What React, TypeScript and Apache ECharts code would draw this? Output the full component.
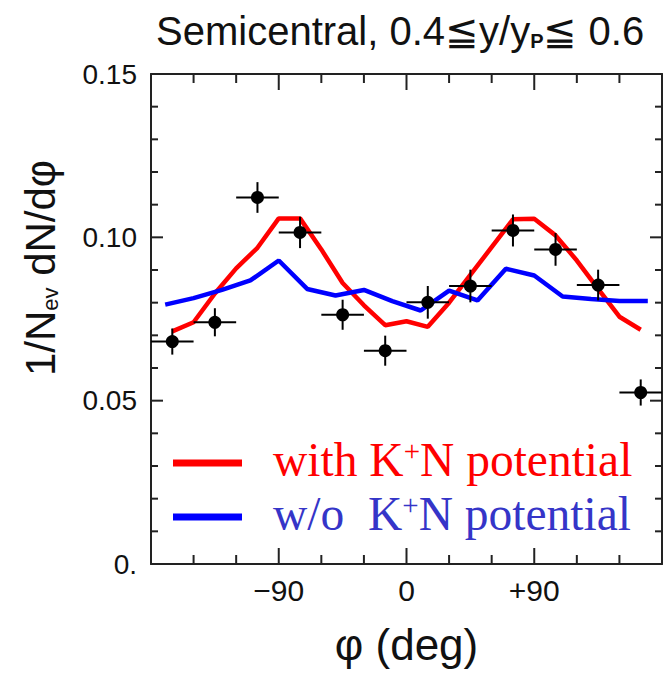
import React, { useEffect, useRef } from "react";
import * as echarts from "echarts";

// Measured data points (bin centres, degrees) with error bars
const pointPhi = [-165, -135, -105, -75, -45, -15, 15, 45, 75, 105, 135, 165];
const pointValue = [0.0681, 0.074, 0.1122, 0.1015, 0.0763, 0.0653, 0.0801, 0.0851, 0.1021, 0.0963, 0.0854, 0.0525];
const pointPhiErr = [15, 15, 15, 15, 15, 15, 15, 15, 15, 15, 15, 15];
const pointValueErr = [0.004, 0.0043, 0.0047, 0.0048, 0.0046, 0.0046, 0.005, 0.005, 0.0049, 0.005, 0.0047, 0.004];

// Model: with K+N potential (red)
const withPhi = [-165, -150, -135, -120, -105, -90, -75, -60, -45, -30, -15, 0, 15, 30, 45, 60, 75, 90, 105, 120, 135, 150, 165];
const withValue = [0.0712, 0.074, 0.0828, 0.0905, 0.0968, 0.1058, 0.1058, 0.0963, 0.086, 0.0792, 0.0731, 0.0743, 0.0726, 0.08, 0.0885, 0.097, 0.1055, 0.1057, 0.1006, 0.0929, 0.0842, 0.0757, 0.0717];

// Model: without K+N potential (blue)
const withoutPhi = [-170, -150, -130, -110, -90, -70, -50, -30, -10, 10, 30, 50, 70, 90, 110, 130, 150, 170];
const withoutValue = [0.0794, 0.0814, 0.0839, 0.0868, 0.0929, 0.0842, 0.0822, 0.0839, 0.0805, 0.0776, 0.0837, 0.0807, 0.0904, 0.0883, 0.0819, 0.0811, 0.0805, 0.0805];

// Axis ranges and frame tick values (ticks on all four sides, pointing inwards)
const xMin = -180;
const xMax = 180;
const yMin = 0;
const yMax = 0.15;
const xMajorTicks = [-90, 0, 90];
const xMinorTicks = [-150, -120, -60, -30, 30, 60, 120, 150];
const yMajorTicks = [0.05, 0.1];
const yMinorTicks = [0.01, 0.02, 0.03, 0.04, 0.06, 0.07, 0.08, 0.09, 0.11, 0.12, 0.13, 0.14];

const xTickLabels: Record<string, string> = { "-90": "\u221290", "0": "0", "90": "+90" };
const yTickLabels: Record<string, string> = { "0": "0.", "5": "0.05", "10": "0.10", "15": "0.15" };

const titleText = "Semicentral, 0.4\u2266y/y{sub|P}\u2266 0.6";
const xName = "\u03c6 (deg)";
const yNameText = "1/N{sub|ev} dN/d\u03c6";
const legendWith = "with K{sup|+}N potential";
const legendWithout = "w/o \u00a0K{sup|+}N potential";

const SANS = "'Liberation Sans', Arial, sans-serif";
const SERIF = "'Liberation Serif', 'Times New Roman', serif";
const AXIS = "#222";

function axisDef(kind: "x" | "y", position: string, showLabels: boolean) {
  const isX = kind === "x";
  return {
    type: "value",
    position,
    min: isX ? xMin : yMin,
    max: isX ? xMax : yMax,
    interval: isX ? 90 : 0.05,
    axisLine: { show: true, onZero: false, lineStyle: { color: AXIS, width: 2 } },
    axisTick: { show: false },
    minorTick: { show: false },
    splitLine: { show: false },
    minorSplitLine: { show: false },
    axisLabel: {
      show: showLabels,
      formatter: isX
        ? (v: number) => xTickLabels[String(Math.round(v))] ?? ""
        : (v: number) => yTickLabels[String(Math.round(v * 100))] ?? "",
      fontFamily: SANS,
      fontSize: isX ? 30 : 28,
      color: "#111",
      margin: isX ? 11 : 14,
      padding: isX ? 0 : [12, 0, 0, 0],
    },
  };
}

// tick items: [xValue, yValue, kind (0 = x tick, 1 = y tick), major (1) / minor (0)]
const tickData: number[][] = [
  ...xMajorTicks.map((v) => [v, yMin, 0, 1]),
  ...xMinorTicks.map((v) => [v, yMin, 0, 0]),
  ...yMajorTicks.map((v) => [xMin, v, 1, 1]),
  ...yMinorTicks.map((v) => [xMin, v, 1, 0]),
];

export default function App() {
  const ref = useRef<HTMLDivElement>(null);
  useEffect(() => {
    if (!ref.current) return;
    const chart = echarts.init(ref.current, undefined, { renderer: "svg" });
    chart.setOption({
      animation: false,
      title: {
        text: titleText,
        left: 151,
        top: 6,
        textStyle: {
          fontFamily: SANS,
          fontSize: 40,
          fontWeight: "normal",
          color: "#111",
          rich: {
            sub: { fontFamily: SANS, fontSize: 20, fontWeight: "bold", verticalAlign: "bottom", color: "#111" },
          },
        },
      },
      grid: { left: 151, right: 6, top: 74, bottom: 109, containLabel: false },
      xAxis: [
        {
          ...axisDef("x", "bottom", true),
          name: xName,
          nameLocation: "middle",
          nameGap: 58,
          nameTextStyle: { fontFamily: SANS, fontSize: 44, color: "#111" },
        },
        axisDef("x", "top", false),
      ],
      yAxis: [axisDef("y", "left", true), axisDef("y", "right", false)],
      series: [
        {
          name: "frame ticks",
          type: "custom",
          data: tickData,
          encode: { x: 0, y: 1 },
          silent: true,
          clip: false,
          renderItem: (_params: any, api: any) => {
            const kind = api.value(2);
            const major = api.value(3) === 1;
            const st = { stroke: AXIS, lineWidth: 2 };
            if (kind === 0) {
              const v = api.value(0);
              const bottom = api.coord([v, yMin]);
              const top = api.coord([v, yMax]);
              const len = major ? 16 : 9;
              return {
                type: "group",
                children: [
                  { type: "line", shape: { x1: bottom[0], y1: bottom[1], x2: bottom[0], y2: bottom[1] - len }, style: st },
                  { type: "line", shape: { x1: top[0], y1: top[1], x2: top[0], y2: top[1] + len }, style: st },
                ],
              };
            }
            const v = api.value(1);
            const left = api.coord([xMin, v]);
            const right = api.coord([xMax, v]);
            const len = major ? 12 : 7;
            return {
              type: "group",
              children: [
                { type: "line", shape: { x1: left[0], y1: left[1], x2: left[0] + len, y2: left[1] }, style: st },
                { type: "line", shape: { x1: right[0], y1: right[1], x2: right[0] - len, y2: right[1] }, style: st },
              ],
            };
          },
          z: 1,
        },
        {
          name: "with K+N potential",
          type: "line",
          data: withPhi.map((x, i) => [x, withValue[i]]),
          showSymbol: false,
          lineStyle: { color: "#ff0000", width: 4.5 },
          itemStyle: { color: "#ff0000" },
          z: 2,
        },
        {
          name: "w/o K+N potential",
          type: "line",
          data: withoutPhi.map((x, i) => [x, withoutValue[i]]),
          showSymbol: false,
          lineStyle: { color: "#0000ff", width: 4.5 },
          itemStyle: { color: "#0000ff" },
          z: 2,
        },
        {
          name: "errors",
          type: "custom",
          data: pointPhi.map((x, i) => [x, pointValue[i], pointPhiErr[i], pointValueErr[i]]),
          encode: { x: 0, y: 1 },
          renderItem: (_params: any, api: any) => {
            const x = api.value(0);
            const y = api.value(1);
            const ex = api.value(2);
            const ey = api.value(3);
            const l = api.coord([x - ex, y]);
            const r = api.coord([x + ex, y]);
            const t = api.coord([x, y + ey]);
            const b = api.coord([x, y - ey]);
            return {
              type: "group",
              children: [
                { type: "line", shape: { x1: l[0], y1: l[1], x2: r[0], y2: r[1] }, style: { stroke: "#000", lineWidth: 2 } },
                { type: "line", shape: { x1: t[0], y1: t[1], x2: b[0], y2: b[1] }, style: { stroke: "#000", lineWidth: 2 } },
              ],
            };
          },
          z: 3,
        },
        {
          name: "data",
          type: "scatter",
          data: pointPhi.map((x, i) => [x, pointValue[i]]),
          symbol: "circle",
          symbolSize: 13,
          itemStyle: { color: "#000", opacity: 1 },
          z: 4,
        },
      ],
      graphic: [
        {
          type: "text",
          x: 40,
          y: 268,
          rotation: Math.PI / 2,
          style: {
            text: yNameText,
            fontFamily: SANS,
            fontSize: 42,
            fill: "#111",
            align: "center",
            verticalAlign: "middle",
            rich: {
              sub: { fontFamily: SANS, fontSize: 22, verticalAlign: "bottom", fill: "#111" },
            },
          },
        },
        {
          type: "line",
          shape: { x1: 173, y1: 463, x2: 242, y2: 463 },
          style: { stroke: "#ff0000", lineWidth: 7 },
          z: 10,
        },
        {
          type: "text",
          x: 273,
          y: 460,
          style: {
            text: legendWith,
            fontFamily: SERIF,
            fontSize: 47.5,
            fill: "#ff0000",
            align: "left",
            verticalAlign: "middle",
            rich: {
              sup: { fontFamily: SERIF, fontSize: 29, verticalAlign: "top", fill: "#ff0000" },
            },
          },
          z: 10,
        },
        {
          type: "line",
          shape: { x1: 173, y1: 517, x2: 242, y2: 517 },
          style: { stroke: "#0000ff", lineWidth: 7 },
          z: 10,
        },
        {
          type: "text",
          x: 273,
          y: 514,
          style: {
            text: legendWithout,
            fontFamily: SERIF,
            fontSize: 47.5,
            fill: "#3535c8",
            align: "left",
            verticalAlign: "middle",
            rich: {
              sup: { fontFamily: SERIF, fontSize: 29, verticalAlign: "top", fill: "#3535c8" },
            },
          },
          z: 10,
        },
      ],
    });
    return () => chart.dispose();
  }, []);
  return (
    <div
      ref={ref}
      style={{ position: "fixed", left: 0, top: 0, width: 668, height: 673, background: "#fff" }}
    />
  );
}
